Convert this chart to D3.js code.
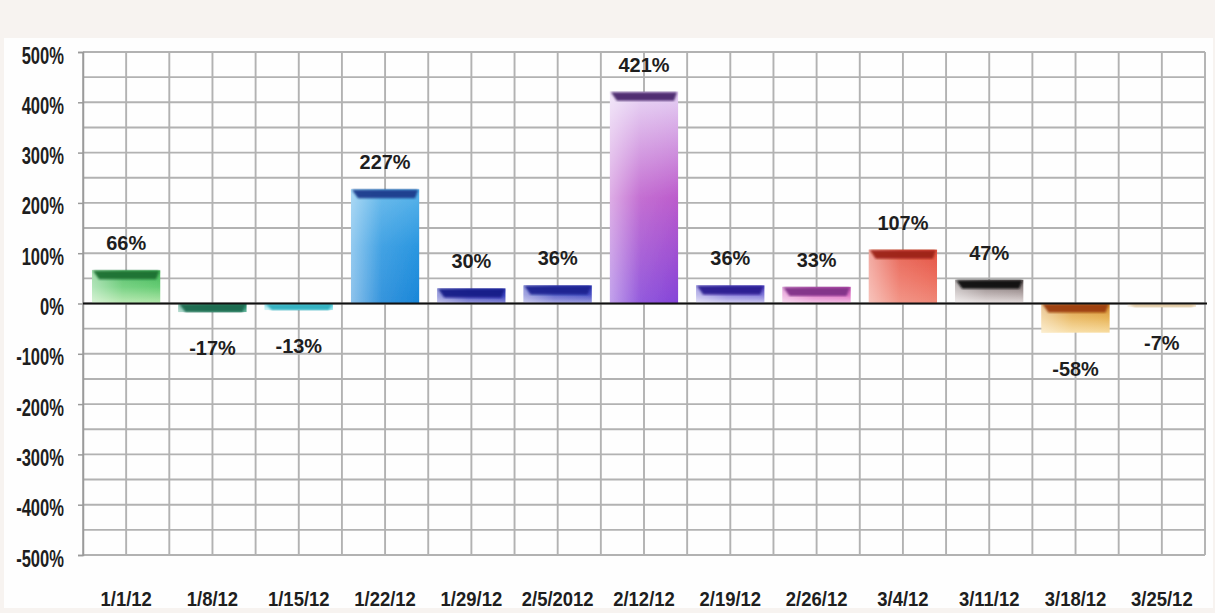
<!DOCTYPE html>
<html>
<head>
<meta charset="utf-8">
<script src="https://cdn.jsdelivr.net/npm/d3@7/dist/d3.min.js"></script>
<style>
  html, body { margin: 0; padding: 0; background: #f7f3f0; }
  svg { display: block; }
  text { font-family: "Liberation Sans", Arial, sans-serif; font-weight: bold; fill: #1e1e1e; }
</style>
</head>
<body>
<svg id="chart" width="1215" height="613"></svg>
<script>
// Weekly change, Jan–Mar 2012
const categories = ["1/1/12", "1/8/12", "1/15/12", "1/22/12", "1/29/12", "2/5/2012", "2/12/12",
                    "2/19/12", "2/26/12", "3/4/12", "3/11/12", "3/18/12", "3/25/12"];
const values = [66, -17, -13, 227, 30, 36, 421, 36, 33, 107, 47, -58, -7];
const yTicks = [500, 400, 300, 200, 100, 0, -100, -200, -300, -400, -500];

// Bar shading: top, middle and bottom stops of the body, plus the darker cap band
const bodyTop    = ["#46b65a", "#2a8a6c", "#58d0dc", "#5ab4ea", "#2c34b0", "#2c34b0", "#e6d2f4",
                    "#4a40c0", "#c050b0", "#e45444", "#6a6060", "#d08a30", "#ecd8b8"];
const bodyMid    = ["#66cc74", "#3a9a7c", "#70d8e4", "#2a96e0", "#4048c0", "#4a50c4", "#bc5ccc",
                    "#8078d8", "#e078c8", "#ec6c5c", "#a89c9c", "#e8b458", "#f0e0c8"];
const bodyBottom = ["#b4e8ac", "#6ab8a0", "#a8ecf0", "#1a86d8", "#9090d8", "#a0a0e0", "#8444d8",
                    "#d0ccf2", "#f4c0e4", "#f08878", "#e6dede", "#f8dca0", "#f4e8d4"];
const capColor   = ["#1c7030", "#1a6a50", "#30b0c0", "#1a3a8c", "#141c88", "#1c2090", "#48286c",
                    "#2a1c90", "#803088", "#9c2414", "#0c0c0c", "#9c3c0c", "#dcc29a"];

const svg = d3.select("#chart");
const W = 1215, H = 613;
const plot = { left: 83, right: 1205, top: 52, bottom: 555 };

// chart area panel
svg.append("rect").attr("x", 4).attr("y", 38).attr("width", W - 6).attr("height", 570)
  .attr("fill", "#fefefe");

const x = d3.scaleBand().domain(categories).range([plot.left, plot.right])
  .paddingInner(0.21).paddingOuter(0.105);
const y = d3.scaleLinear().domain([-500, 500]).range([plot.bottom, plot.top]);

const defs = svg.append("defs");
defs.append("filter").attr("id", "soft").append("feGaussianBlur").attr("stdDeviation", 1.1);
defs.append("filter").attr("id", "softer").append("feGaussianBlur").attr("stdDeviation", 0.6);

// gridlines: every 50% horizontally, every half category vertically
const grid = svg.append("g").attr("stroke", "#b2b2b2").attr("stroke-width", 1.9)
  .attr("filter", "url(#softer)");
grid.selectAll("line.h").data(d3.range(-500, 501, 50)).join("line").attr("class", "h")
  .attr("x1", plot.left).attr("x2", plot.right).attr("y1", d => y(d)).attr("y2", d => y(d));
const step = x.step();
grid.selectAll("line.v").data(d3.range(0, categories.length * 2 + 1)).join("line").attr("class", "v")
  .attr("x1", k => plot.left + k * step / 2).attr("x2", k => plot.left + k * step / 2)
  .attr("y1", plot.top).attr("y2", plot.bottom);

// y axis
const yAxis = svg.append("g").attr("transform", `translate(${plot.left},0)`)
  .call(d3.axisLeft(y).tickValues(yTicks).tickSize(5).tickFormat(d => d + "%"));
yAxis.select(".domain").attr("stroke", "#9a9a9a").attr("stroke-width", 1.5);
yAxis.selectAll(".tick line").attr("stroke", "#9a9a9a").attr("stroke-width", 1.5);
yAxis.selectAll(".tick text").each(function () {
  const t = d3.select(this);
  const label = t.text();
  t.text(null).attr("x", null).attr("dy", null);
  t.attr("transform", "translate(-19,11) scale(0.72,1)")
    .attr("text-anchor", "end").style("font-size", "23px").text(label);
});
yAxis.selectAll(".tick text").attr("fill", "#1e1e1e");

// bars
const bars = svg.append("g");
categories.forEach((c, i) => {
  const v = values[i];
  const x0 = x(c), bw = x.bandwidth();
  const yTop = Math.min(y(v), y(0)), yBot = Math.max(y(v), y(0));
  const h = yBot - yTop;

  const gid = "grad" + i;
  const g = defs.append("linearGradient").attr("id", gid)
    .attr("x1", 0).attr("y1", 0).attr("x2", 0).attr("y2", 1);
  g.append("stop").attr("offset", "0%").attr("stop-color", bodyTop[i]);
  g.append("stop").attr("offset", "50%").attr("stop-color", bodyMid[i]);
  g.append("stop").attr("offset", "100%").attr("stop-color", bodyBottom[i]);

  const hid = "hi" + i;
  const hg = defs.append("linearGradient").attr("id", hid)
    .attr("x1", 0).attr("y1", 0).attr("x2", 1).attr("y2", 0);
  hg.append("stop").attr("offset", "0%").attr("stop-color", "#ffffff").attr("stop-opacity", 0.5);
  hg.append("stop").attr("offset", "45%").attr("stop-color", "#ffffff").attr("stop-opacity", 0.12);
  hg.append("stop").attr("offset", "100%").attr("stop-color", "#ffffff").attr("stop-opacity", 0);

  const b = bars.append("g").attr("filter", "url(#softer)");
  b.append("rect").attr("x", x0).attr("y", yTop).attr("width", bw).attr("height", h)
    .attr("fill", `url(#${gid})`);
  b.append("rect").attr("x", x0).attr("y", yTop).attr("width", bw).attr("height", h)
    .attr("fill", `url(#${hid})`);

  // darker bevel band along the upper edge
  const capH = Math.min(9, h);
  const cap = d3.path();
  cap.moveTo(x0 + 1, yTop + 0.5);
  cap.lineTo(x0 + bw - 1, yTop + 0.5);
  cap.lineTo(x0 + bw - 4, yTop + capH);
  cap.lineTo(x0 + 7, yTop + capH);
  cap.closePath();
  bars.append("path").attr("d", cap.toString()).attr("fill", capColor[i])
    .attr("filter", "url(#soft)").attr("opacity", 0.95);
});

// zero line
svg.append("line").attr("x1", plot.left).attr("x2", plot.right + 2)
  .attr("y1", y(0)).attr("y2", y(0)).attr("stroke", "#111").attr("stroke-width", 2);

// value labels
svg.append("g").selectAll("text").data(categories).join("text")
  .attr("transform", (c, i) => {
    const cx = x(c) + x.bandwidth() / 2;
    const ty = values[i] >= 0 ? y(values[i]) - 20 : y(values[i]) + 43;
    return `translate(${cx},${ty}) scale(0.95,1)`;
  })
  .attr("text-anchor", "middle").style("font-size", "21px")
  .text((c, i) => values[i] + "%");

// category labels
svg.append("g").selectAll("text").data(categories).join("text")
  .attr("transform", c => `translate(${x(c) + x.bandwidth() / 2},606) scale(0.88,1)`)
  .attr("text-anchor", "middle").style("font-size", "21px")
  .text(c => c);
</script>
</body>
</html>
